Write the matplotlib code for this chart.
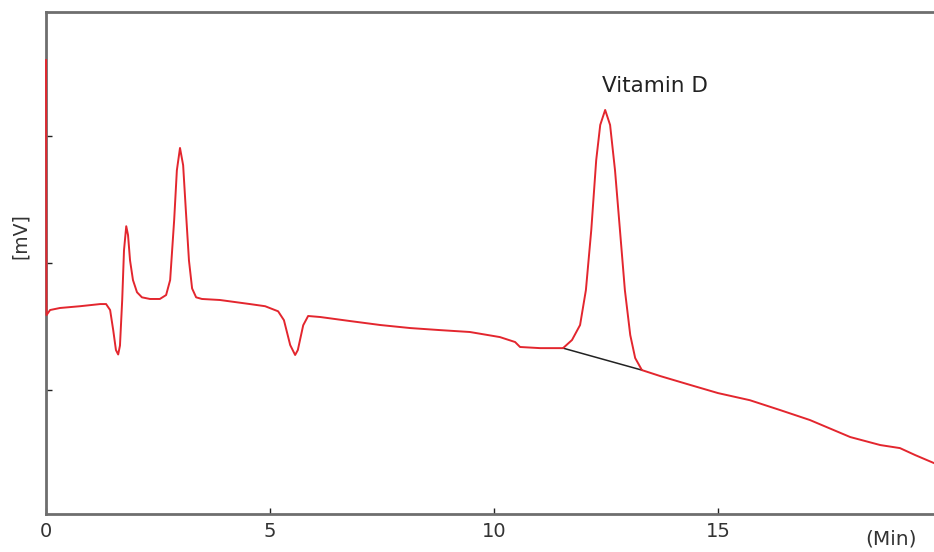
import matplotlib.pyplot as plt

# chromatogram trace: time (min) and signal (mV, arbitrary)
time_min = [0.0, 0.01, 0.09, 0.31, 0.76, 1.21, 1.34, 1.43, 1.50, 1.56, 1.61, 1.65,
            1.70, 1.74, 1.79, 1.83, 1.875, 1.94, 2.03, 2.14, 2.32, 2.54, 2.68, 2.77,
            2.86, 2.92, 2.99, 3.06, 3.12, 3.19, 3.26, 3.35, 3.48, 3.88, 4.55, 4.89,
            5.18, 5.31, 5.45, 5.56, 5.62, 5.74, 5.85, 6.12, 6.79, 7.46, 8.13, 8.79,
            9.46, 10.13, 10.47, 10.58, 11.03, 11.54, 11.74, 11.92, 12.05, 12.17,
            12.28, 12.37, 12.48, 12.59, 12.70, 12.81, 12.92, 13.04, 13.15, 13.30,
            13.71, 14.38, 15.0, 15.71, 16.38, 17.05, 17.95, 18.62, 19.06, 19.4, 19.82]
signal_mv = [359.8, 159.0, 163.0, 164.6, 166.0, 167.7, 167.7, 163.0, 147.0, 131.5, 128.0, 135.0,
             171.0, 210.0, 229.0, 222.0, 202.0, 186.6, 177.0, 173.0, 171.7, 171.7, 174.8, 186.6,
             234.0, 273.0, 290.6, 277.0, 241.7, 202.0, 180.0, 173.0, 171.7, 170.9, 167.7, 166.0,
             162.0, 155.0, 135.4, 127.6, 131.5, 151.0, 158.3, 157.5, 154.3, 151.2, 148.8, 147.2,
             145.7, 141.7, 137.8, 133.9, 133.0, 133.0, 139.4, 151.2, 178.7, 226.0,
             281.0, 308.7, 320.5, 308.7, 273.0, 226.0, 178.7, 143.3, 125.2, 115.7,
             111.0, 104.0, 97.6, 92.0, 84.3, 76.4, 63.0, 56.7, 54.3, 48.8, 42.5]

# integration baseline under the vitamin D peak
base_t = [11.54, 13.30]
base_v = [133.0, 115.7]

peak_name = "Vitamin D"
peak_pos = (13.6, 339.0)
xticks = [0, 5, 10, 15]
yticks = [100, 200, 300]

fig = plt.figure(figsize=(9.34, 5.52), dpi=100)
ax = fig.add_axes([0.0493, 0.0688, 0.96, 0.9094])

ax.plot(time_min, signal_mv, color="#e3262e", lw=1.4, zorder=3, clip_on=False)
ax.plot(base_t, base_v, color="#222222", lw=1.1, zorder=2)
ax.text(peak_pos[0], peak_pos[1], peak_name, ha="center", va="center",
        fontsize=15.5, color="#222222")

ax.set_xlim(0, 19.82 * 0.96 / 0.9507)
ax.set_ylim(2.4, 397.6)
ax.set_xticks(xticks)
ax.set_xticklabels([str(t) for t in xticks], fontsize=14, color="#333333")
ax.set_yticks(yticks)
ax.set_yticklabels([])
ax.tick_params(axis="both", direction="in", length=4, width=1, color="#222222")
ax.tick_params(axis="x", pad=6)

for s in ["top", "left", "bottom"]:
    ax.spines[s].set_color("#6e6e6e")
    ax.spines[s].set_linewidth(2)
ax.spines["right"].set_visible(False)

fig.text(891 / 934, 1 - 539 / 552, "(Min)", ha="center", va="center",
         fontsize=14.5, color="#333333")
fig.text(20 / 934, 1 - 236 / 552, "[mV]", ha="center", va="center",
         rotation=90, fontsize=13.5, color="#333333")

fig.savefig("out.png", dpi=100)
